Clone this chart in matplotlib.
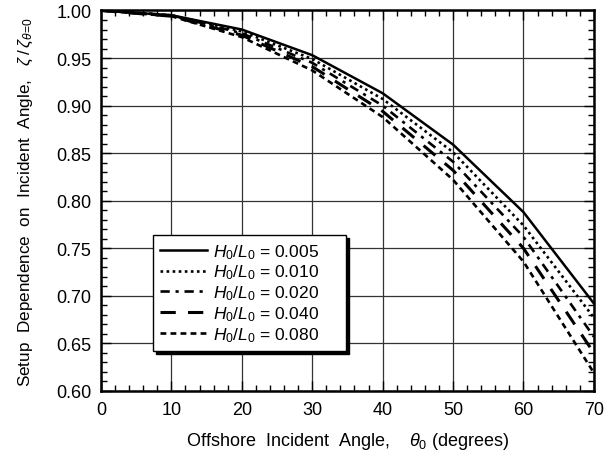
import numpy as np
import matplotlib
matplotlib.use('Agg')
import matplotlib.pyplot as plt
from matplotlib.ticker import MultipleLocator

plt.rcParams['font.family'] = ['Liberation Sans', 'DejaVu Sans']
plt.rcParams['mathtext.fontset'] = 'custom'
plt.rcParams['mathtext.rm'] = 'Liberation Sans'
plt.rcParams['mathtext.it'] = 'Liberation Sans:italic'

angle = [0, 10, 20, 30, 40, 50, 60, 70]
steepness = ['0.005', '0.010', '0.020', '0.040', '0.080']
setup_0005 = [1.000, 0.995, 0.980, 0.953, 0.913, 0.859, 0.788, 0.692]
setup_0010 = [1.000, 0.995, 0.978, 0.949, 0.907, 0.851, 0.774, 0.677]
setup_0020 = [1.000, 0.995, 0.976, 0.945, 0.900, 0.841, 0.762, 0.657]
setup_0040 = [1.000, 0.994, 0.974, 0.941, 0.894, 0.832, 0.750, 0.640]
setup_0080 = [1.000, 0.994, 0.972, 0.937, 0.888, 0.822, 0.736, 0.619]
series = [setup_0005, setup_0010, setup_0020, setup_0040, setup_0080]

styles = [('-', 1.8), ((0, (1.0, 1.3)), 1.9), ((0, (3.5, 2.2, 1.2, 2.2)), 1.9),
          ((0, (5, 4)), 2.2), ((0, (2.2, 1.6)), 1.9)]

fig = plt.figure(figsize=(6.11, 4.56), dpi=100)
ax = fig.add_axes([0.1653, 0.1404, 0.8067, 0.8344])

for vals, lab, (ls, lw) in zip(series, steepness, styles):
    ax.plot(angle, vals, color='black', linestyle=ls, linewidth=lw,
            label=r'$H_{\rm 0}/L_{\rm 0}$ = ' + lab + '     ')

ax.set_xlim(0, 70)
ax.set_ylim(0.60, 1.00)
ax.xaxis.set_major_locator(MultipleLocator(10))
ax.xaxis.set_minor_locator(MultipleLocator(2))
ax.yaxis.set_major_locator(MultipleLocator(0.05))
ax.yaxis.set_minor_locator(MultipleLocator(0.01))
ax.yaxis.set_major_formatter(plt.FormatStrFormatter('%.2f'))
ax.tick_params(which='both', direction='in', top=True, right=True, labelsize=13, colors='black')
ax.tick_params(which='major', length=7, width=1.0, pad=7)
ax.tick_params(which='minor', length=4, width=1.0)
ax.grid(True, which='major', color='#333333', linewidth=0.9)
for s in ax.spines.values():
    s.set_linewidth(1.8)

ax.set_xlabel(r'Offshore  Incident  Angle,    $\theta_{\rm 0}$ (degrees)', fontsize=13, labelpad=9)
ax.set_ylabel(r'Setup  Dependence  on  Incident  Angle,   $\zeta\,/\,\zeta_{\theta\!=\!0}$',
              fontsize=12.3, labelpad=15)

leg = ax.legend(loc='upper left', bbox_to_anchor=(153 / 611, 1 - 236 / 456),
                bbox_transform=fig.transFigure, borderaxespad=0, fontsize=12.5,
                handlelength=2.7, handletextpad=0.35, labelspacing=0.12,
                borderpad=0.4, fancybox=False, framealpha=1,
                shadow={'color': 'black', 'alpha': 1, 'ox': 2.5, 'oy': -2.5})
leg.get_frame().set_edgecolor('black')
leg.get_frame().set_linewidth(1.0)
leg.set_zorder(5)

fig.savefig('out.png', dpi=100)
